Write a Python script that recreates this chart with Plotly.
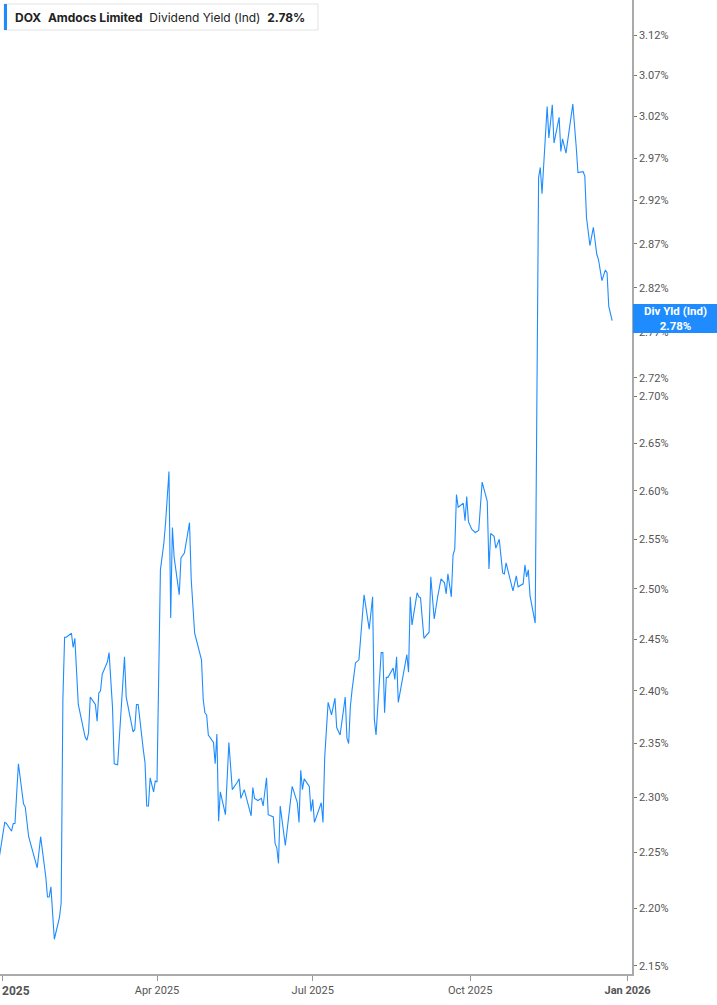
import math
import plotly.graph_objects as go

# dividend yield (%)
dates = [
    '2024-12-30', '2025-01-02', '2025-01-03', '2025-01-06', '2025-01-07', '2025-01-08', '2025-01-10',
    '2025-01-13', '2025-01-14', '2025-01-16', '2025-01-21', '2025-01-23', '2025-01-26', '2025-01-27',
    '2025-01-28', '2025-01-29', '2025-01-31', '2025-02-03', '2025-02-04', '2025-02-05', '2025-02-06',
    '2025-02-07', '2025-02-10', '2025-02-11', '2025-02-12', '2025-02-14', '2025-02-18', '2025-02-19',
    '2025-02-20', '2025-02-21', '2025-02-24', '2025-02-25', '2025-02-26', '2025-02-27', '2025-02-28',
    '2025-03-03', '2025-03-04', '2025-03-06', '2025-03-07', '2025-03-09', '2025-03-13', '2025-03-14',
    '2025-03-18', '2025-03-19', '2025-03-20', '2025-03-21', '2025-03-24', '2025-03-25', '2025-03-26',
    '2025-03-27', '2025-03-28', '2025-03-30', '2025-03-31', '2025-04-01', '2025-04-03', '2025-04-05',
    '2025-04-06', '2025-04-08', '2025-04-09', '2025-04-10', '2025-04-11', '2025-04-14', '2025-04-15',
    '2025-04-17', '2025-04-20', '2025-04-21', '2025-04-23', '2025-04-27', '2025-04-28', '2025-04-29',
    '2025-04-30', '2025-05-01', '2025-05-04', '2025-05-05', '2025-05-06', '2025-05-07', '2025-05-08',
    '2025-05-11', '2025-05-13', '2025-05-15', '2025-05-18', '2025-05-19', '2025-05-20', '2025-05-22',
    '2025-05-26', '2025-05-27', '2025-05-28', '2025-05-30', '2025-06-01', '2025-06-02', '2025-06-04',
    '2025-06-05', '2025-06-08', '2025-06-09', '2025-06-10', '2025-06-11', '2025-06-12', '2025-06-15',
    '2025-06-19', '2025-06-22', '2025-06-23', '2025-06-24', '2025-06-25', '2025-06-26', '2025-06-29',
    '2025-06-30', '2025-07-01', '2025-07-02', '2025-07-06', '2025-07-07', '2025-07-08', '2025-07-10',
    '2025-07-12', '2025-07-14', '2025-07-15', '2025-07-17', '2025-07-20', '2025-07-21', '2025-07-22',
    '2025-07-23', '2025-07-24', '2025-07-26', '2025-07-28', '2025-07-31', '2025-08-03', '2025-08-05',
    '2025-08-06', '2025-08-07', '2025-08-10', '2025-08-11', '2025-08-12', '2025-08-13', '2025-08-14',
    '2025-08-17', '2025-08-18', '2025-08-19', '2025-08-20', '2025-08-25', '2025-08-26', '2025-08-27',
    '2025-08-28', '2025-08-31', '2025-09-01', '2025-09-02', '2025-09-04', '2025-09-07', '2025-09-08',
    '2025-09-10', '2025-09-12', '2025-09-14', '2025-09-16', '2025-09-17', '2025-09-18', '2025-09-20',
    '2025-09-21', '2025-09-22', '2025-09-23', '2025-09-24', '2025-09-27', '2025-09-28', '2025-09-29',
    '2025-09-30', '2025-10-02', '2025-10-04', '2025-10-06', '2025-10-08', '2025-10-11', '2025-10-12',
    '2025-10-13', '2025-10-15', '2025-10-16', '2025-10-18', '2025-10-20', '2025-10-21', '2025-10-22',
    '2025-10-23', '2025-10-26', '2025-10-28', '2025-10-29', '2025-11-01', '2025-11-02', '2025-11-03',
    '2025-11-04', '2025-11-05', '2025-11-08', '2025-11-10', '2025-11-11', '2025-11-12', '2025-11-15',
    '2025-11-16', '2025-11-18', '2025-11-19', '2025-11-22', '2025-11-23', '2025-11-24', '2025-11-26',
    '2025-11-30', '2025-12-02', '2025-12-03', '2025-12-06', '2025-12-07', '2025-12-08', '2025-12-10',
    '2025-12-12', '2025-12-14', '2025-12-15', '2025-12-17', '2025-12-19', '2025-12-20', '2025-12-21',
    '2025-12-23',
]
yields = [
    2.247, 2.277, 2.276, 2.269, 2.276, 2.276, 2.331,
    2.294, 2.291, 2.264, 2.236, 2.264, 2.228, 2.210,
    2.210, 2.219, 2.173, 2.192, 2.205, 2.392, 2.452,
    2.452, 2.456, 2.442, 2.451, 2.387, 2.356, 2.353,
    2.360, 2.394, 2.387, 2.371, 2.398, 2.400, 2.416,
    2.428, 2.437, 2.384, 2.331, 2.330, 2.433, 2.394,
    2.361, 2.363, 2.387, 2.387, 2.344, 2.332, 2.292,
    2.292, 2.318, 2.305, 2.315, 2.314, 2.519, 2.546,
    2.567, 2.620, 2.471, 2.562, 2.532, 2.494, 2.531,
    2.536, 2.567, 2.509, 2.456, 2.430, 2.392, 2.379,
    2.377, 2.358, 2.351, 2.331, 2.359, 2.278, 2.305,
    2.284, 2.351, 2.307, 2.314, 2.317, 2.299, 2.307,
    2.283, 2.309, 2.299, 2.297, 2.299, 2.292, 2.318,
    2.284, 2.282, 2.258, 2.254, 2.240, 2.292, 2.256,
    2.310, 2.295, 2.277, 2.325, 2.307, 2.317, 2.310,
    2.287, 2.298, 2.277, 2.295, 2.277, 2.337, 2.389,
    2.377, 2.393, 2.365, 2.358, 2.394, 2.355, 2.350,
    2.385, 2.401, 2.427, 2.430, 2.494, 2.460, 2.492,
    2.373, 2.358, 2.437, 2.437, 2.379, 2.413, 2.413,
    2.422, 2.411, 2.433, 2.389, 2.435, 2.418, 2.492,
    2.464, 2.496, 2.492, 2.491, 2.451, 2.457, 2.512,
    2.470, 2.492, 2.510, 2.506, 2.495, 2.515, 2.492,
    2.534, 2.540, 2.596, 2.583, 2.587, 2.569, 2.594,
    2.568, 2.560, 2.557, 2.559, 2.609, 2.589, 2.520,
    2.556, 2.553, 2.541, 2.550, 2.516, 2.515, 2.526,
    2.519, 2.498, 2.513, 2.502, 2.505, 2.524, 2.512,
    2.519, 2.493, 2.466, 2.947, 2.959, 2.928, 3.032,
    2.994, 3.034, 2.988, 3.019, 2.978, 2.993, 2.976,
    3.035, 2.983, 2.953, 2.954, 2.949, 2.900, 2.868,
    2.889, 2.858, 2.852, 2.828, 2.840, 2.837, 2.799,
    2.783,
]

y_ticks = [2.15, 2.20, 2.25, 2.30, 2.35, 2.40, 2.45, 2.50, 2.55, 2.60, 2.65, 2.70,
           2.72, 2.77, 2.82, 2.87, 2.92, 2.97, 3.02, 3.07, 3.12]
x_ticks = ['2025-01-01', '2025-04-01', '2025-07-01', '2025-10-01', '2026-01-01']
x_labels = ['', 'Apr 2025', 'Jul 2025', 'Oct 2025', '<b>Jan 2026</b>']

blue = '#1e8cff'
# plot area in pixels, used to place the overlay boxes
W, H = 632, 974


def px(x):
    return x / W


def py(y):
    return 1 - y / H


fig = go.Figure()
fig.add_trace(go.Scatter(x=dates, y=yields, mode='lines',
                         line=dict(color=blue, width=1.1), hoverinfo='skip'))

fig.update_layout(
    width=717, height=1005,
    margin=dict(l=0, r=85, t=0, b=31),
    paper_bgcolor='white', plot_bgcolor='white',
    showlegend=False,
    font=dict(family='Roboto, Arial, sans-serif', size=11, color='#555555'),
    xaxis=dict(
        range=['2024-12-30 06:00', '2026-01-03 14:00'],
        tickvals=x_ticks, ticktext=x_labels,
        ticks='outside', ticklen=5, tickcolor='#999999',
        showline=True, linecolor='#aaaaaa', linewidth=1.5,
        showgrid=False, zeroline=False,
        tickfont=dict(size=11, color='#555555'),
    ),
    yaxis=dict(
        type='log', side='right',
        range=[math.log10(2.143), math.log10(3.164)],
        tickvals=y_ticks, ticktext=[f'{v:.2f}%' for v in y_ticks],
        ticks='outside', ticklen=3, tickcolor='#777777',
        showline=True, linecolor='#aaaaaa', linewidth=1.5,
        showgrid=False, zeroline=False,
        tickfont=dict(size=11, color='#555555'),
    ),
)

# header box
fig.add_shape(type='rect', xref='paper', yref='paper',
              x0=px(4), x1=px(318), y0=py(30), y1=py(4),
              line=dict(color='#e3e3e3', width=1), fillcolor='white', layer='above')
fig.add_shape(type='rect', xref='paper', yref='paper',
              x0=px(4), x1=px(7), y0=py(30), y1=py(4),
              line=dict(width=0), fillcolor=blue, layer='above')
sp = '\u00a0\u00a0'
fig.add_annotation(xref='paper', yref='paper', x=px(13), y=py(17),
                   xanchor='left', yanchor='middle', showarrow=False,
                   text=f'<b>DOX</b>{sp}<b>Amdocs Limited</b>{sp}Dividend Yield (Ind){sp}<b>2.78%</b>',
                   font=dict(family='Inter, Roboto, sans-serif', size=12, color='#222222'))

# last value label on the axis
fig.add_shape(type='rect', xref='paper', yref='paper',
              x0=px(633), x1=px(717), y0=py(333), y1=py(304),
              line=dict(width=0), fillcolor=blue, layer='above')
fig.add_annotation(xref='paper', yref='paper', x=px(675), y=py(318.5),
                   xanchor='center', yanchor='middle', showarrow=False,
                   text=f'<b>Div Yld (Ind)</b><br><b>{yields[-1]:.2f}%</b>',
                   font=dict(family='Roboto, Arial, sans-serif', size=11.5, color='white'))

# first year label, kept inside the page
fig.add_annotation(xref='paper', yref='paper', x=0, y=py(991),
                   xanchor='left', yanchor='middle', showarrow=False,
                   text='<b>2025</b>',
                   font=dict(family='Roboto, Arial, sans-serif', size=12, color='#555555'))

# page has a default body margin, drop it so the figure sits at the corner
fig.write_html('out.html', config={'displayModeBar': False},
               post_script="document.body.style.margin='0';")
